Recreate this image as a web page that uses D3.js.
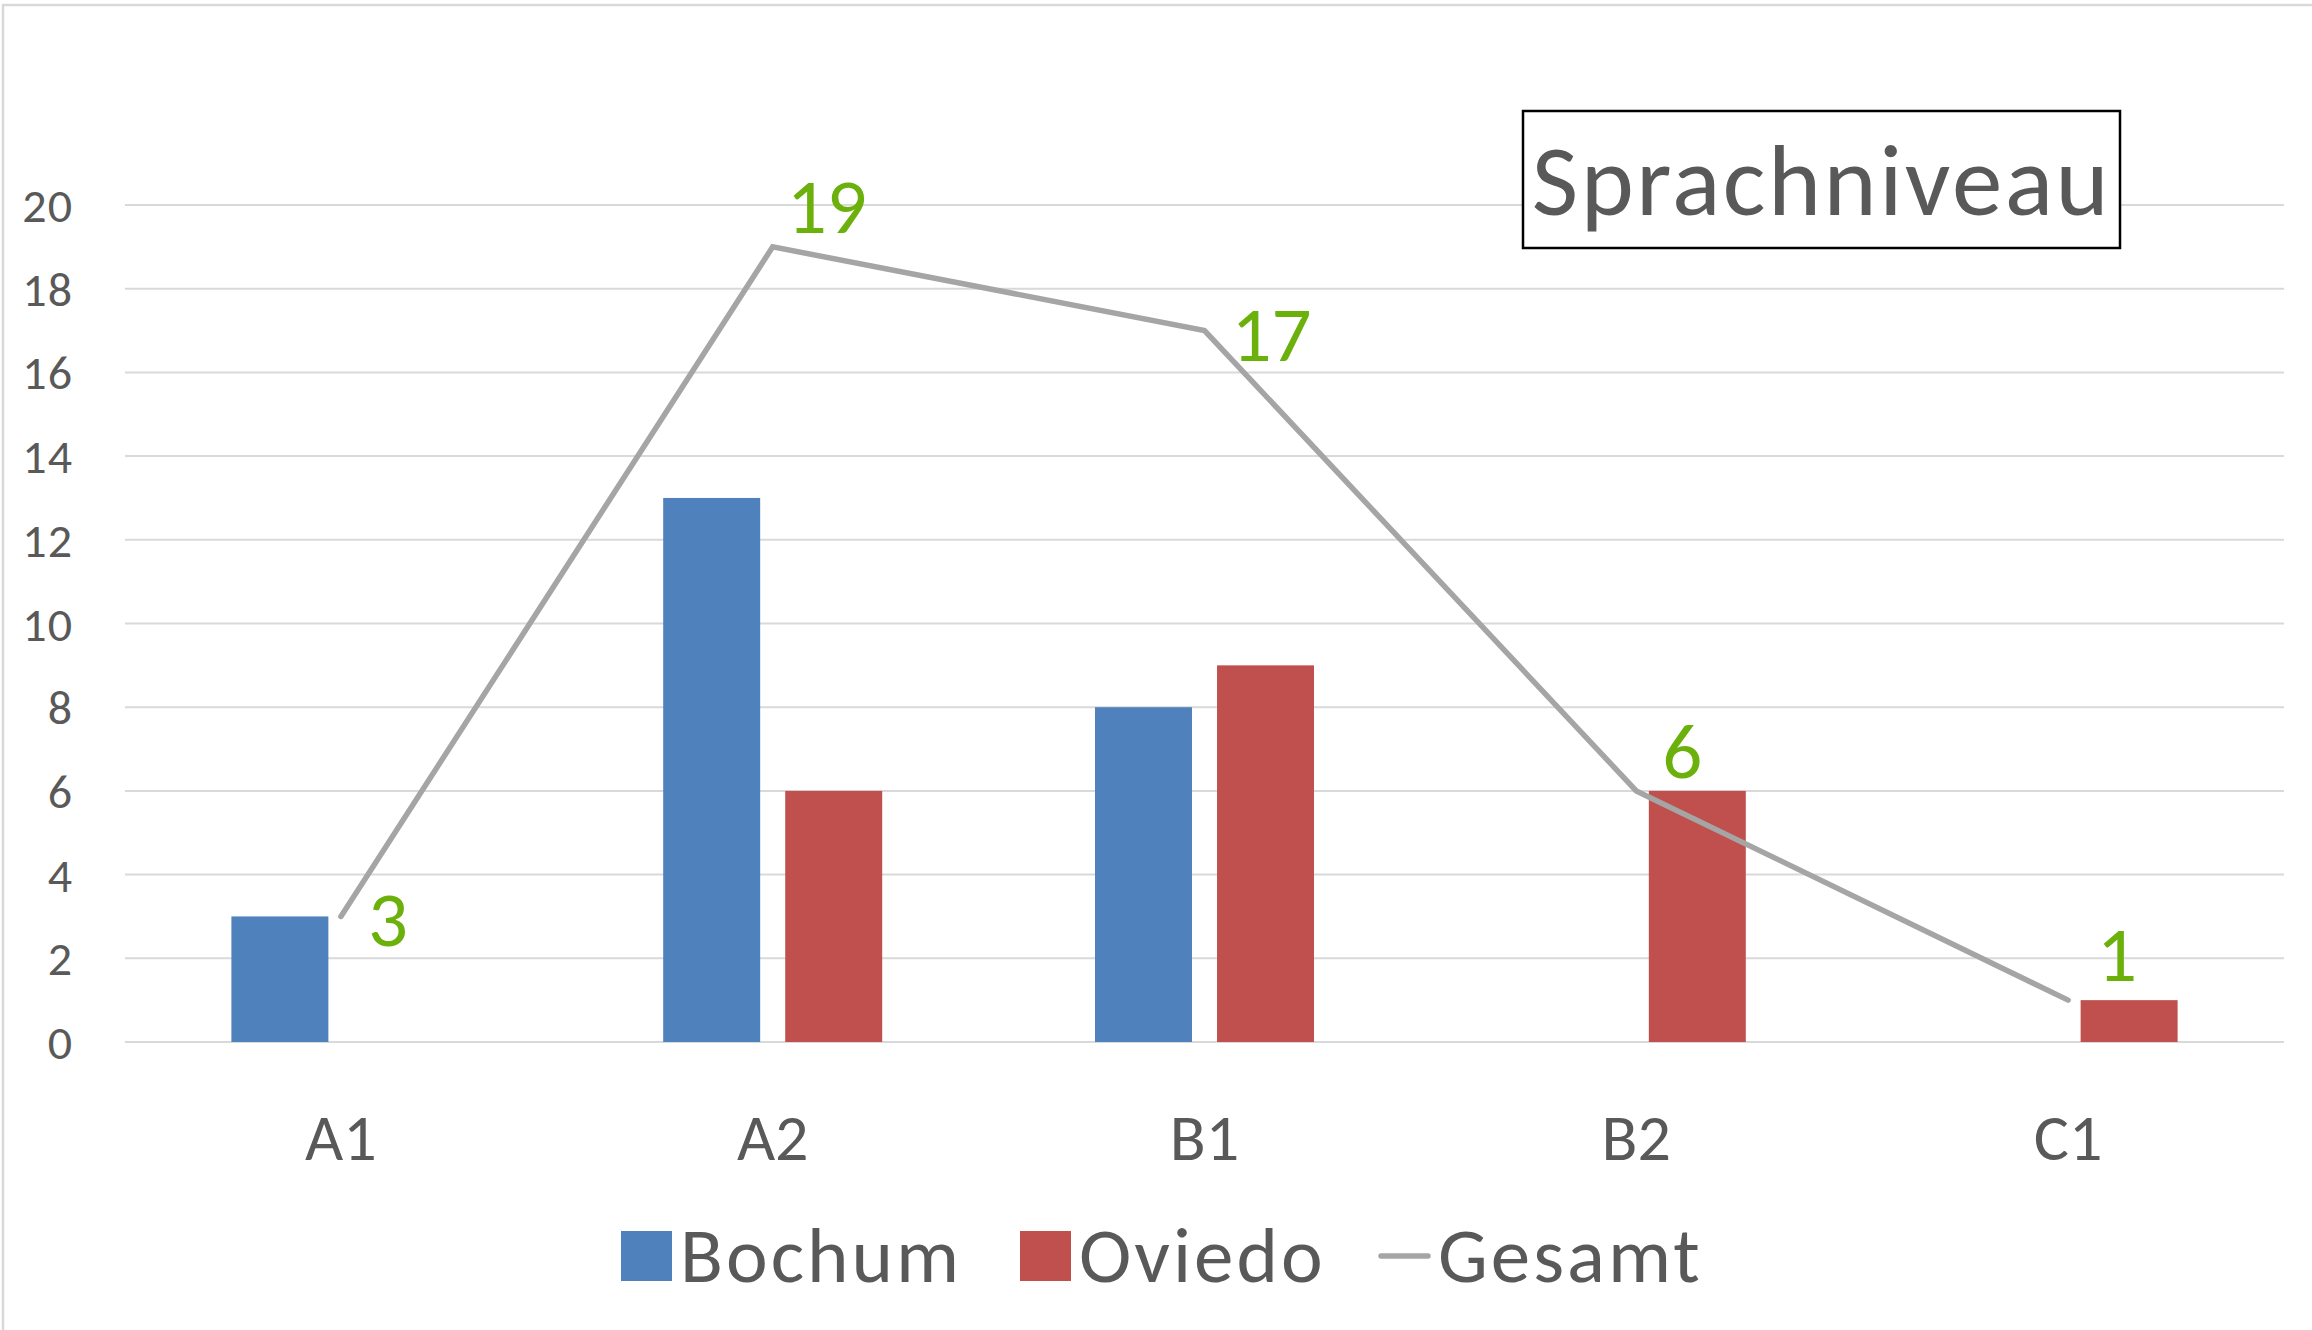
<!DOCTYPE html>
<html>
<head>
<meta charset="utf-8">
<script src="https://cdn.jsdelivr.net/npm/d3@7"></script>
<style>
  html, body { margin: 0; padding: 0; background: #fff; }
  svg text { font-family: Calibri, Carlito, Lato, sans-serif; fill: #595959; }
</style>
</head>
<body>
<svg id="chart" width="2312" height="1330"></svg>
<script>
const categories = ["A1", "A2", "B1", "B2", "C1"];
const bochum = [3, 13, 8, 0, 0];
const oviedo = [0, 6, 9, 6, 1];
const gesamt = [3, 19, 17, 6, 1];
const yTicks = [0, 2, 4, 6, 8, 10, 12, 14, 16, 18, 20];
const title = "Sprachniveau";
const seriesNames = ["Bochum", "Oviedo", "Gesamt"];

const width = 2312, height = 1330;
const plot = {left: 125, right: 2284, top: 205, bottom: 1042};
const colors = {bochum: "#4f81bd", oviedo: "#c0504d", gesamt: "#a5a5a5", label: "#6cb00c", grid: "#d9d9d9"};

const svg = d3.select("#chart");

// chart area border (only top and left show in the picture)
svg.append("rect")
  .attr("x", 3).attr("y", 5)
  .attr("width", width + 20).attr("height", height + 20)
  .attr("fill", "#fff")
  .attr("stroke", "#d9d9d9").attr("stroke-width", 2.5);

const x = d3.scaleBand().domain(categories).range([plot.left, plot.right]);
const y = d3.scaleLinear().domain([0, 20]).range([plot.bottom, plot.top]);

const bw = x.bandwidth();
const barW = bw * 0.2246;
const barGap = bw * 0.058;
const cx = (c) => x(c) + bw / 2;

// gridlines
svg.append("g")
  .selectAll("line")
  .data(yTicks)
  .join("line")
    .attr("x1", plot.left).attr("x2", plot.right)
    .attr("y1", d => y(d)).attr("y2", d => y(d))
    .attr("stroke", colors.grid).attr("stroke-width", 2);

// y tick labels
svg.append("g")
  .selectAll("text")
  .data(yTicks)
  .join("text")
    .attr("x", 73)
    .attr("y", d => y(d) + 17)
    .attr("text-anchor", "end")
    .style("font-size", "48px")
    .style("letter-spacing", "1px")
    .text(d => d);

// x category labels
svg.append("g")
  .selectAll("text")
  .data(categories)
  .join("text")
    .attr("x", d => cx(d))
    .attr("y", 1160)
    .attr("text-anchor", "middle")
    .style("font-size", "66px")
    .text(d => d);

// bars
svg.append("g")
  .selectAll("rect")
  .data(categories.map((c, i) => ({c, v: bochum[i]})))
  .join("rect")
    .attr("x", d => cx(d.c) - barGap / 2 - barW)
    .attr("y", d => y(d.v))
    .attr("width", barW)
    .attr("height", d => y(0) - y(d.v))
    .attr("fill", colors.bochum);

svg.append("g")
  .selectAll("rect")
  .data(categories.map((c, i) => ({c, v: oviedo[i]})))
  .join("rect")
    .attr("x", d => cx(d.c) + barGap / 2)
    .attr("y", d => y(d.v))
    .attr("width", barW)
    .attr("height", d => y(0) - y(d.v))
    .attr("fill", colors.oviedo);

// total line
const line = d3.line()
  .x((d, i) => cx(categories[i]))
  .y(d => y(d));

svg.append("path")
  .datum(gesamt)
  .attr("d", line)
  .attr("fill", "none")
  .attr("stroke", colors.gesamt)
  .attr("stroke-width", 5.5)
  .attr("stroke-linecap", "round")
  .attr("stroke-linejoin", "miter");

// data labels, hand nudged like in the original
const nudgeX = [27, 14, 27, 26, 29];
const nudgeY = [0, -44, 0, -43, -49];
svg.append("g")
  .selectAll("text")
  .data(gesamt)
  .join("text")
    .attr("x", (d, i) => cx(categories[i]) + nudgeX[i])
    .attr("y", (d, i) => y(d) + 30 + nudgeY[i])
    .style("font-size", "79px")
    .style("fill", colors.label)
    .text(d => d);

// title box
const tb = {x: 1523, y: 111, w: 597, h: 137};
svg.append("rect")
  .attr("x", tb.x).attr("y", tb.y)
  .attr("width", tb.w).attr("height", tb.h)
  .attr("fill", "#fff")
  .attr("stroke", "#000").attr("stroke-width", 2.5);
svg.append("text")
  .attr("x", tb.x + tb.w / 2)
  .attr("y", 215)
  .attr("text-anchor", "middle")
  .style("font-size", "101px")
  .style("letter-spacing", "2.5px")
  .text(title);

// legend, item starts as in the original
const legX = [621, 1020, 1379];
const legY = 1256;
const sw = 51;
const legend = svg.append("g");
seriesNames.forEach((name, i) => {
  const g = legend.append("g").attr("transform", `translate(${legX[i]},0)`);
  if (i < 2) {
    g.append("rect")
      .attr("x", 0).attr("y", legY - 25)
      .attr("width", sw).attr("height", 50)
      .attr("fill", i === 0 ? colors.bochum : colors.oviedo);
  } else {
    g.append("line")
      .attr("x1", 2).attr("x2", sw - 2)
      .attr("y1", legY).attr("y2", legY)
      .attr("stroke", colors.gesamt)
      .attr("stroke-width", 5.5)
      .attr("stroke-linecap", "round");
  }
  g.append("text")
    .attr("x", sw + 8)
    .attr("y", 1282)
    .style("font-size", "79px")
    .style("letter-spacing", "3px")
    .text(name);
});
</script>
</body>
</html>
